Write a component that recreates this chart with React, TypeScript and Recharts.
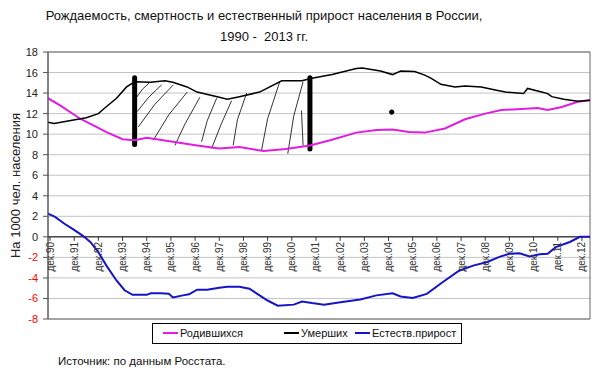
import { CartesianGrid, Line, LineChart, ReferenceArea, ReferenceDot, ReferenceLine, XAxis, YAxis } from 'recharts'

const FONT = '"Liberation Sans", Arial, sans-serif'

// months counted from Dec 1990
const BIRTH_MONTHS = [-1, 5, 15, 22, 28, 36, 42, 48, 61, 73, 84, 94, 106, 117, 129, 139, 152, 162, 170, 178, 186, 196, 206, 216, 224, 234, 242, 247, 254, 262, 268]
const BIRTH_VALUES = [13.5, 12.8, 11.5, 10.8, 10.2, 9.5, 9.4, 9.65, 9.25, 8.9, 8.6, 8.75, 8.35, 8.55, 8.9, 9.4, 10.15, 10.4, 10.45, 10.2, 10.15, 10.55, 11.45, 12.0, 12.35, 12.45, 12.55, 12.35, 12.65, 13.15, 13.3]

const DEATH_MONTHS = [-1, 2, 11, 18, 24, 26, 33, 38, 42, 50, 57, 61, 68, 73, 83, 88, 94, 104, 115, 125, 130, 140, 152, 155, 164, 170, 174, 181, 186, 189, 194, 201, 206, 214, 221, 226, 235, 237, 244, 247, 249, 255, 262, 268]
const DEATH_VALUES = [11.15, 11.05, 11.35, 11.6, 12.0, 12.35, 13.5, 14.6, 15.1, 15.05, 15.2, 15.05, 14.6, 14.1, 13.65, 13.4, 13.65, 14.1, 15.2, 15.2, 15.45, 15.8, 16.4, 16.45, 16.15, 15.8, 16.15, 16.1, 15.75, 15.45, 14.85, 14.6, 14.7, 14.6, 14.3, 14.1, 13.95, 14.45, 14.1, 13.95, 13.65, 13.4, 13.2, 13.3]

const GROWTH_MONTHS = [-1, 2.5, 7, 11, 16, 20, 24, 28, 33, 37, 41, 48, 50, 55, 59, 61, 66, 69, 73, 78, 84, 88, 94, 99, 104, 108, 113, 121, 125, 130, 136, 145, 154, 162, 170, 174, 180, 187, 195, 203, 210, 217, 223, 228, 233, 238, 243, 247, 251, 258, 263, 268]
const GROWTH_VALUES = [2.25, 1.95, 1.3, 0.8, 0.15, -0.5, -1.5, -2.8, -4.25, -5.2, -5.65, -5.65, -5.5, -5.5, -5.55, -5.9, -5.7, -5.6, -5.15, -5.15, -4.95, -4.85, -4.85, -5.05, -5.7, -6.2, -6.7, -6.6, -6.3, -6.45, -6.6, -6.35, -6.1, -5.7, -5.5, -5.8, -5.95, -5.55, -4.4, -3.3, -2.8, -2.45, -1.95, -1.65, -1.6, -1.9, -1.7, -1.65, -1.0, -0.5, 0, 0]

const X_TICK_LABELS = ['дек.90', 'дек.91', 'дек.92', 'дек.93', 'дек.94', 'дек.95', 'дек.96', 'дек.97', 'дек.98', 'дек.99', 'дек.00', 'дек.01', 'дек.02', 'дек.03', 'дек.04', 'дек.05', 'дек.06', 'дек.07', 'дек.08', 'дек.09', 'дек.10', 'дек.11', 'дек.12']
const Y_TICKS = [-8, -6, -4, -2, 0, 2, 4, 6, 8, 10, 12, 14, 16, 18]

// hand-drawn marks: thick bars and hatching between the curves [m1, v1, m2, v2]
const BARS = [
  [42, 9.0, 42, 15.5],
  [129, 8.55, 129, 15.5],
]
const HATCH = [
  [43, 13.6, 46, 14.4],
  [46, 14.4, 49.3, 15.0],
  [43.3, 12.2, 49, 13.6],
  [49, 13.6, 55.4, 14.8],
  [43.8, 10.7, 52, 12.9],
  [52, 12.9, 61.2, 14.8],
  [51.2, 9.4, 59, 11.9],
  [59, 11.9, 68.1, 14.1],
  [62, 8.9, 67, 11.0],
  [67, 11.0, 74.4, 13.6],
  [75.2, 9.25, 78, 11.3],
  [78, 11.3, 82.7, 13.5],
  [80.2, 8.6, 85, 11.0],
  [85, 11.0, 90.1, 13.25],
  [90.9, 8.9, 93, 11.4],
  [93, 11.4, 97.6, 14.0],
  [105, 8.45, 108, 11.5],
  [108, 11.5, 114, 15.1],
  [118, 8.1, 121, 11.8],
  [121, 11.8, 125.6, 15.1],
  [124.8, 12.3, 125.6, 8.9],
]
const DOT = { m: 169.6, v: 12.15 }

const birthData = BIRTH_MONTHS.map((m, i) => ({ m, v: BIRTH_VALUES[i] }))
const deathData = DEATH_MONTHS.map((m, i) => ({ m, v: DEATH_VALUES[i] }))
const growthData = GROWTH_MONTHS.map((m, i) => ({ m, v: GROWTH_VALUES[i] }))

const SERIES = [
  { name: 'Родившихся', color: '#e01ee0', width: 2, data: birthData },
  { name: 'Умерших', color: '#000000', width: 1.5, data: deathData },
  { name: 'Естеств.прирост', color: '#1515c8', width: 2, data: growthData },
]

function YTick({ x, y, payload }: any) {
  const value = payload.value
  return (
    <text x={x} y={y} textAnchor="end" dominantBaseline="central" fontSize={11} fontFamily={FONT} fill={value < 0 ? '#ff0000' : '#222'}>
      {value}
    </text>
  )
}

function XTick({ cx, cy, label }: any) {
  return (
    <g>
      <line x1={cx} y1={cy} x2={cx} y2={cy + 4} stroke="#333" />
      <text
        x={cx}
        y={cy + 5}
        transform={`rotate(-90 ${cx} ${cy + 5})`}
        textAnchor="end"
        dominantBaseline="central"
        fontSize={10}
        fontFamily={FONT}
        fill="#333"
      >
        {label}
      </text>
    </g>
  )
}

function YLabel({ viewBox }: any) {
  const x = viewBox.x + 7
  const y = viewBox.y + viewBox.height / 2
  return (
    <text x={x} y={y} transform={`rotate(-90 ${x} ${y})`} textAnchor="middle" dominantBaseline="central" fontSize={13} fontFamily={FONT} fill="#222">
      На 1000 чел. населения
    </text>
  )
}

export default function App() {
  return (
    <div style={{ position: 'absolute', left: 0, top: 0, width: 600, height: 375, background: '#fff', fontFamily: FONT, color: '#111' }}>
      <div style={{ position: 'absolute', left: 0, top: 5, width: 528, textAlign: 'center', fontSize: 13, lineHeight: '21px' }}>
        Рождаемость, смертность и естественный прирост населения в России,
        <br />
        1990 -&nbsp; 2013 гг.
      </div>
      <LineChart width={600} height={375} margin={{ top: 52, right: 10, bottom: 56, left: 8 }}>
        <CartesianGrid vertical={false} stroke="#c4c4c4" />
        <XAxis dataKey="m" type="number" domain={[-1, 268]} allowDataOverflow hide />
        <YAxis
          domain={[-8, 18]}
          ticks={Y_TICKS}
          interval={0}
          width={40}
          tickSize={5}
          tickMargin={5}
          tick={<YTick />}
          axisLine={{ stroke: '#555' }}
          tickLine={{ stroke: '#555' }}
          label={<YLabel />}
        />
        <ReferenceArea x1={-1} x2={268} y1={-8} y2={18} fill="none" stroke="#666" />
        <ReferenceLine y={0} stroke="#000" />
        {X_TICK_LABELS.map((label, i) => (
          <ReferenceDot key={label} x={i * 12} y={0} shape={(props: any) => <XTick {...props} label={label} />} />
        ))}
        {HATCH.map(([m1, v1, m2, v2], i) => (
          <ReferenceLine key={`h${i}`} segment={[{ x: m1, y: v1 }, { x: m2, y: v2 }]} stroke="#000" strokeWidth={0.8} />
        ))}
        {BARS.map(([m1, v1, m2, v2], i) => (
          <ReferenceLine key={`b${i}`} segment={[{ x: m1, y: v1 }, { x: m2, y: v2 }]} stroke="#000" strokeWidth={5} strokeLinecap="round" />
        ))}
        <ReferenceDot x={DOT.m} y={DOT.v} r={2.2} fill="#000" stroke="#000" />
        {SERIES.map((s) => (
          <Line
            key={s.name}
            data={s.data}
            dataKey="v"
            name={s.name}
            type="linear"
            stroke={s.color}
            strokeWidth={s.width}
            dot={false}
            activeDot={false}
            isAnimationActive={false}
          />
        ))}
      </LineChart>
      <div
        style={{
          position: 'absolute',
          left: 152,
          top: 323,
          width: 310,
          height: 21,
          border: '1px solid #000',
          boxSizing: 'border-box',
          fontSize: 11,
        }}
      >
        {SERIES.map((s, i) => (
          <div key={s.name} style={{ position: 'absolute', left: [10, 131, 202][i], top: 3, display: 'flex', alignItems: 'center', whiteSpace: 'nowrap' }}>
            <span style={{ display: 'inline-block', width: 15, height: 2, background: s.color, marginRight: 2 }} />
            <span>{s.name}</span>
          </div>
        ))}
      </div>
      <div style={{ position: 'absolute', left: 58, top: 355, fontSize: 11.5 }}>Источник: по данным Росстата.</div>
    </div>
  )
}
